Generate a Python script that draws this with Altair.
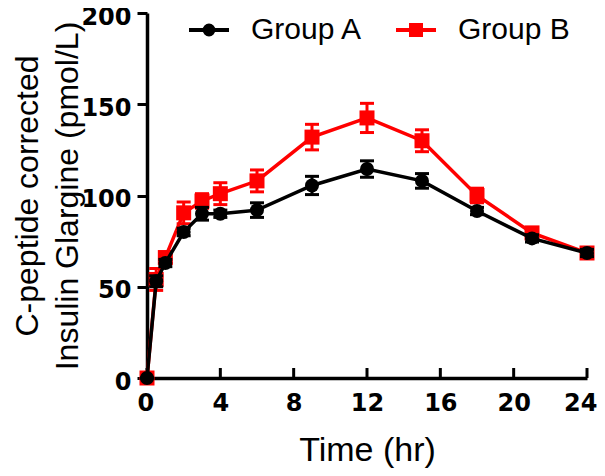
import altair as alt
import pandas as pd

# ---- data ----
times = [0, 0.5, 1, 2, 3, 4, 6, 9, 12, 15, 18, 21, 24]
group_a_mean = [0, 53, 63, 80, 90, 90, 92, 105.5, 114.5, 108, 91.5, 76.5, 68.5]
group_a_sem = [0, 3, 2, 2, 3.5, 2, 4, 5, 4.5, 4, 2, 2, 2]
group_b_mean = [0, 54, 66, 90.5, 97, 101, 108, 132, 142.5, 130, 100, 79.5, 68.5]
group_b_sem = [0, 6, 3, 6, 4, 6, 6, 7, 8, 6, 4, 3, 2]
groups = ["Group A", "Group B"]
colors = ["#000000", "#ff0000"]
x_ticks = [0, 4, 8, 12, 16, 20, 24]
y_ticks = [0, 50, 100, 150, 200]
x_title = "Time (hr)"
y_title = ["C-peptide corrected", "Insulin Glargine (pmol/L)"]

n = len(times)
df = pd.DataFrame({
    "time": times + times,
    "group": [groups[0]] * n + [groups[1]] * n,
    "mean": group_a_mean + group_b_mean,
    "sem": group_a_sem + group_b_sem,
})
legend_df = pd.DataFrame({"group": groups})
xtick_df = pd.DataFrame({"time": x_ticks, "mean": [y_ticks[0]] * len(x_ticks)})

W, H = 440, 365
xs = alt.Scale(domain=[0, 24], nice=False, zero=False)
ys = alt.Scale(domain=[0, 200], nice=False)

x_axis = alt.Axis(
    orient="bottom", values=x_ticks, ticks=False, tickSize=0, labelPadding=13,
    labelFont="DejaVu Sans", labelFontWeight="bold", labelFontSize=24,
    labelColor="black", labelFlush=True, labelFlushOffset=10, labelOverlap=False,
    domainColor="black", domainWidth=3.5, grid=False,
    title=x_title, titleFont="Liberation Sans", titleFontSize=34,
    titleFontWeight="normal", titleColor="black",
    titleX=W / 2, titleY=82, titleBaseline="alphabetic",
)
y_axis = alt.Axis(
    orient="left", values=y_ticks, tickSize=10, tickWidth=3, tickColor="black",
    labelPadding=6, labelOffset=4,
    labelFont="DejaVu Sans", labelFontWeight="bold", labelFontSize=24,
    labelColor="black", domainColor="black", domainWidth=3.5, grid=False,
    title=y_title, titleFont="Liberation Sans", titleFontSize=32,
    titleFontWeight="normal", titleColor="black", titleLineHeight=40,
    titleX=-110, titleY=H / 2, titleBaseline="alphabetic",
)

X = alt.X("time:Q", scale=xs, axis=x_axis, title=x_title)


def Y(field):
    return alt.Y(field, scale=ys, axis=y_axis, title=y_title)


base = alt.Chart(df).transform_calculate(
    lo="datum.mean - datum.sem", hi="datum.mean + datum.sem"
)


def series(g, color, shape, size):
    d = base.transform_filter(alt.datum.group == g)
    line = d.mark_line(color=color, strokeWidth=3.5).encode(x=X, y=Y("mean:Q"))
    rule = d.mark_rule(color=color, strokeWidth=3).encode(
        x=X, y=Y("lo:Q"), y2="hi:Q")
    cap_lo = d.mark_tick(color=color, orient="horizontal", size=14,
                         thickness=3, opacity=1).encode(x=X, y=Y("lo:Q"))
    cap_hi = d.mark_tick(color=color, orient="horizontal", size=14,
                         thickness=3, opacity=1).encode(x=X, y=Y("hi:Q"))
    pts = d.mark_point(shape=shape, filled=True, size=size, opacity=1,
                       color=color).encode(x=X, y=Y("mean:Q"))
    return [line, rule, cap_lo, cap_hi, pts]


# inward x-axis ticks, placed through the scales at the tick values
xticks_layer = alt.Chart(xtick_df).mark_tick(
    orient="vertical", size=10, thickness=3, color="black", opacity=1, yOffset=-5
).encode(x=X, y=Y("mean:Q"))

layers = [xticks_layer] + series(groups[1], colors[1], "square", 225) + \
    series(groups[0], colors[0], "circle", 196)

path_a = "M-1,0H1M-0.22,0A0.22,0.22,0,1,1,0.22,0A0.22,0.22,0,1,1,-0.22,0Z"
path_b = "M-1,0H1M-0.25,-0.25H0.25V0.25H-0.25Z"

lg = alt.Legend(
    title=None, orient="none", legendX=40, legendY=-5, direction="horizontal",
    labelFont="Liberation Sans", labelFontSize=30, labelColor="black",
    labelOffset=20, columnPadding=25, symbolSize=1600, symbolStrokeWidth=4,
    padding=0, labelLimit=400,
)
legend_layer = alt.Chart(legend_df).mark_point(
    clip=True, size=1600, opacity=1, strokeWidth=4
).encode(
    x=alt.value(-400),
    y=alt.value(-400),
    shape=alt.Shape("group:N", scale=alt.Scale(domain=groups, range=[path_a, path_b]), legend=lg),
    fill=alt.Fill("group:N", scale=alt.Scale(domain=groups, range=colors), legend=lg),
    stroke=alt.Stroke("group:N", scale=alt.Scale(domain=groups, range=colors), legend=lg),
)

chart = alt.layer(*layers, legend_layer).properties(
    width=W, height=H, autosize="none",
    padding={"left": 139, "top": 5, "right": 10, "bottom": 90},
).configure_view(strokeWidth=0)

chart.save("out.html", embed_options={"renderer": "svg", "actions": False})
